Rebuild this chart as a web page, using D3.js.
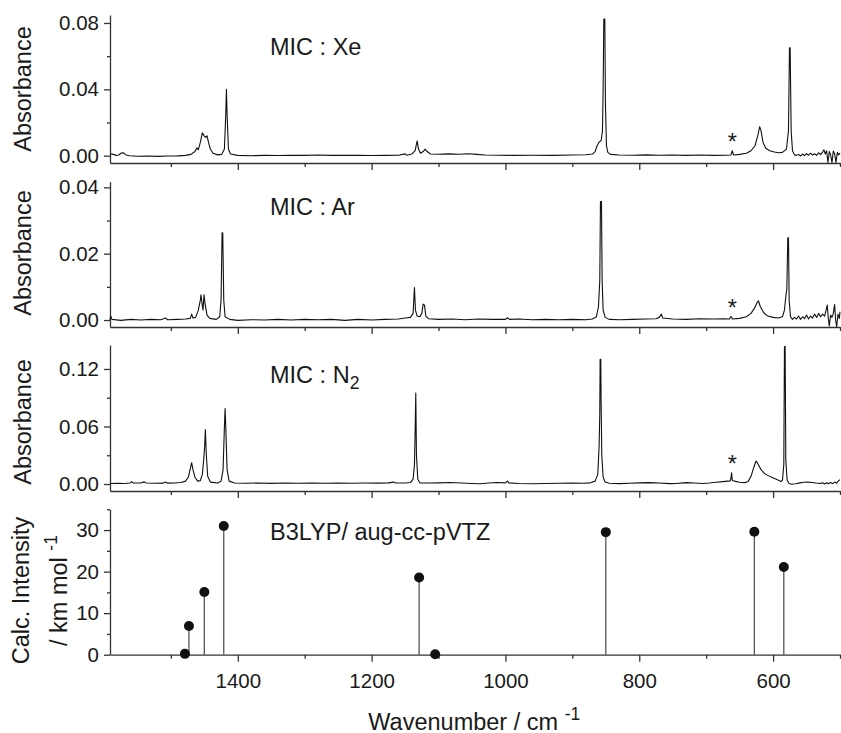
<!DOCTYPE html>
<html>
<head>
<meta charset="utf-8">
<script src="https://cdn.jsdelivr.net/npm/d3@7"></script>
<style>
  body { margin: 0; background: #fff; }
  svg text { font-family: "Liberation Sans", Arial, sans-serif; fill: #1a1a1a; }
  .axis path, .axis line { stroke: #333; stroke-width: 1.3; }
  .axis text { font-size: 20.5px; fill: #1a1a1a; }
</style>
</head>
<body>
<svg id="chart" width="841" height="733"></svg>
<script>
const svg = d3.select("#chart");

// wavenumber ticks
const xMajorTicks = [1400, 1200, 1000, 800, 600];
const xMinorTicks = [1500, 1300, 1100, 900, 700, 500];

// MIC : Xe  [wavenumber, absorbance]
const xeSpectrum = [
  [1591, 0.0012], [1586, 0.0008], [1582, 0.0002], [1578, 0.0004], [1574, 0.0016], [1571, 0.0018],
  [1568, 0.0006], [1562, 0.0000], [1550, -0.0003], [1535, -0.0002], [1520, -0.0004], [1505, -0.0002],
  [1490, -0.0001], [1478, 0.0002], [1470, 0.0008], [1464, 0.0025], [1461, 0.0048], [1459, 0.0035],
  [1456, 0.0080], [1453, 0.0138], [1450, 0.0118], [1448, 0.0110], [1446, 0.0120], [1444, 0.0085],
  [1441, 0.0040], [1437, 0.0015], [1430, 0.0005], [1424, 0.0008], [1420, 0.0040], [1418, 0.0250],
  [1417, 0.0400], [1416, 0.0250], [1414, 0.0040], [1411, 0.0010], [1400, 0.0002], [1380, 0.0000],
  [1360, 0.0002], [1340, 0.0001], [1320, 0.0003], [1300, 0.0002], [1280, 0.0004], [1260, 0.0002],
  [1240, 0.0003], [1220, 0.0002], [1200, 0.0001], [1180, 0.0002], [1160, 0.0003], [1150, 0.0011],
  [1147, 0.0003], [1140, 0.0010], [1135, 0.0030], [1132, 0.0089], [1130, 0.0040], [1127, 0.0015],
  [1123, 0.0025], [1120, 0.0039], [1117, 0.0025], [1112, 0.0010], [1100, 0.0009], [1085, 0.0011],
  [1070, 0.0009], [1055, 0.0012], [1043, 0.0008], [1030, 0.0004], [1010, 0.0003], [990, 0.0002],
  [960, 0.0003], [930, 0.0002], [900, 0.0004], [880, 0.0006], [870, 0.0010], [866, 0.0025],
  [863, 0.0060], [860, 0.0083], [857, 0.0090], [855, 0.0150], [854, 0.0400], [853, 0.0823],
  [851.5, 0.0823], [850.5, 0.0300], [849, 0.0060], [847, 0.0020], [843, 0.0008], [830, 0.0004],
  [810, 0.0003], [790, 0.0005], [770, 0.0003], [750, 0.0004], [730, 0.0002], [710, 0.0004],
  [690, 0.0002], [670, 0.0003], [663, 0.0004], [661, 0.0030], [659, 0.0004], [650, 0.0008],
  [640, 0.0015], [633, 0.0030], [627, 0.0060], [623, 0.0120], [620, 0.0175], [618, 0.0150],
  [615, 0.0080], [611, 0.0045], [605, 0.0030], [598, 0.0022], [592, 0.0018], [586, 0.0020],
  [580, 0.0040], [577, 0.0150], [575.5, 0.0650], [574.5, 0.0650], [573, 0.0150], [571, 0.0030],
  [568, 0.0005], [565, 0.0002], [562, 0.0008], [559, -0.0002], [556, 0.0010], [553, 0.0000],
  [550, 0.0012], [547, 0.0003], [544, 0.0015], [541, 0.0004], [538, 0.0012], [535, 0.0002],
  [532, 0.0018], [529, 0.0006], [526, 0.0022], [524, 0.0035], [522, 0.0010], [520, 0.0030],
  [518, -0.0040], [516, 0.0025], [514, 0.0005], [512, -0.0040], [510, 0.0028], [508, 0.0010],
  [506, -0.0040], [504, 0.0020], [502, 0.0005], [500, 0.0015]
];

// MIC : Ar
const arSpectrum = [
  [1591, 0.0000], [1590, 0.0012], [1588, 0.0002], [1575, -0.0001], [1560, 0.0002], [1545, 0.0000],
  [1530, 0.0002], [1515, 0.0001], [1508, 0.0006], [1505, 0.0001], [1490, 0.0002], [1478, 0.0003],
  [1471, 0.0005], [1469, 0.0018], [1467, 0.0006], [1463, 0.0008], [1459, 0.0030], [1456, 0.0060],
  [1455, 0.0076], [1453.5, 0.0050], [1452, 0.0030], [1450.5, 0.0076], [1449, 0.0050], [1446, 0.0015],
  [1442, 0.0005], [1432, 0.0002], [1427, 0.0010], [1425, 0.0060], [1423.5, 0.0263], [1422.5, 0.0263],
  [1421, 0.0060], [1419, 0.0010], [1412, 0.0002], [1400, -0.0001], [1380, 0.0001], [1360, 0.0000],
  [1340, 0.0002], [1320, 0.0000], [1300, 0.0002], [1280, 0.0001], [1260, 0.0002], [1240, -0.0001],
  [1220, 0.0002], [1200, 0.0000], [1180, 0.0002], [1160, 0.0003], [1150, 0.0006], [1142, 0.0008],
  [1138, 0.0020], [1136, 0.0098], [1134.5, 0.0030], [1132, 0.0012], [1128, 0.0010], [1125, 0.0020],
  [1123, 0.0048], [1121, 0.0045], [1119, 0.0012], [1115, 0.0004], [1100, 0.0002], [1080, 0.0003],
  [1060, 0.0001], [1040, 0.0003], [1020, 0.0002], [1000, 0.0002], [997, 0.0007], [994, 0.0002],
  [980, 0.0003], [960, 0.0001], [940, 0.0002], [920, 0.0001], [900, 0.0002], [880, 0.0001],
  [870, 0.0003], [864, 0.0010], [861, 0.0040], [859, 0.0120], [858, 0.0357], [856.5, 0.0357],
  [855.5, 0.0120], [854, 0.0030], [851, 0.0008], [845, 0.0002], [830, 0.0001], [810, 0.0002],
  [790, 0.0003], [775, 0.0004], [770, 0.0008], [767, 0.0018], [765, 0.0006], [750, 0.0003],
  [730, 0.0002], [710, 0.0004], [690, 0.0003], [675, 0.0004], [665, 0.0003], [663.5, 0.0010],
  [662, 0.0010], [661, 0.0003], [650, 0.0005], [640, 0.0010], [633, 0.0020], [628, 0.0035],
  [624, 0.0052], [622, 0.0058], [619, 0.0040], [614, 0.0022], [608, 0.0012], [600, 0.0008],
  [592, 0.0006], [586, 0.0010], [583, 0.0030], [580.5, 0.0080], [579.5, 0.0090], [578, 0.0248],
  [577, 0.0248], [576, 0.0060], [574, 0.0010], [571, 0.0002], [568, 0.0008], [565, 0.0003],
  [562, 0.0012], [559, 0.0002], [556, 0.0010], [553, 0.0004], [550, 0.0015], [547, 0.0003],
  [544, 0.0012], [541, 0.0006], [538, 0.0018], [535, 0.0008], [532, 0.0020], [529, 0.0010],
  [526, 0.0018], [523, 0.0012], [519, 0.0045], [517.5, 0.0005], [516, -0.0018], [514, 0.0015],
  [512, 0.0008], [510, 0.0020], [508, 0.0047], [506.5, 0.0000], [505, -0.0020], [503, 0.0018],
  [501, 0.0005], [500, 0.0025]
];

// MIC : N2
const n2Spectrum = [
  [1591, 0.0005], [1580, 0.0007], [1570, 0.0006], [1561, 0.0010], [1559, 0.0025], [1556, 0.0010],
  [1545, 0.0010], [1540, 0.0022], [1537, 0.0010], [1525, 0.0008], [1512, 0.0009], [1508, 0.0020],
  [1505, 0.0009], [1495, 0.0010], [1485, 0.0015], [1478, 0.0030], [1474, 0.0070], [1471, 0.0160],
  [1469, 0.0222], [1467, 0.0150], [1464, 0.0070], [1460, 0.0030], [1456, 0.0035], [1453, 0.0100],
  [1451, 0.0250], [1449.5, 0.0395], [1448.5, 0.0569], [1447, 0.0300], [1445, 0.0080], [1441, 0.0020],
  [1430, 0.0010], [1425, 0.0030], [1422, 0.0150], [1420, 0.0600], [1419, 0.0787], [1418, 0.0600],
  [1416, 0.0150], [1413, 0.0030], [1405, 0.0010], [1390, 0.0008], [1370, 0.0010], [1350, 0.0007],
  [1330, 0.0010], [1310, 0.0008], [1290, 0.0011], [1270, 0.0008], [1250, 0.0010], [1230, 0.0008],
  [1210, 0.0010], [1190, 0.0009], [1175, 0.0012], [1167, 0.0020], [1164, 0.0010], [1150, 0.0010],
  [1142, 0.0015], [1138, 0.0050], [1136, 0.0200], [1135, 0.0540], [1134, 0.0950], [1133, 0.0300],
  [1131, 0.0050], [1128, 0.0012], [1115, 0.0010], [1100, 0.0012], [1083, 0.0016], [1065, 0.0010],
  [1050, 0.0006], [1038, 0.0003], [1025, 0.0010], [1013, 0.0016], [1000, 0.0012], [997, 0.0030],
  [995, 0.0012], [980, 0.0006], [960, 0.0003], [940, 0.0006], [920, 0.0008], [900, 0.0010],
  [885, 0.0008], [873, 0.0012], [866, 0.0030], [862, 0.0100], [860, 0.0400], [859, 0.0735],
  [858.5, 0.1300], [857.5, 0.1300], [857, 0.0850], [856, 0.0300], [854, 0.0070], [851, 0.0020],
  [845, 0.0008], [830, 0.0004], [815, 0.0008], [800, 0.0012], [785, 0.0014], [770, 0.0010],
  [755, 0.0004], [745, 0.0006], [730, 0.0014], [718, 0.0010], [705, 0.0006], [695, 0.0010],
  [685, 0.0018], [675, 0.0025], [668, 0.0030], [664, 0.0032], [663, 0.0060], [662, 0.0118],
  [661, 0.0040], [658, 0.0030], [650, 0.0018], [642, 0.0014], [637, 0.0030], [633, 0.0080],
  [629, 0.0170], [626, 0.0232], [625, 0.0239], [622, 0.0200], [618, 0.0150], [613, 0.0110],
  [608, 0.0090], [602, 0.0070], [597, 0.0055], [592, 0.0040], [588, 0.0025], [586, 0.0040],
  [584, 0.0200], [583, 0.1435], [582, 0.1435], [581, 0.0250], [579, 0.0040], [576, 0.0005],
  [572, -0.0002], [566, 0.0003], [560, 0.0012], [554, 0.0018], [548, 0.0020], [542, 0.0016],
  [536, 0.0010], [530, 0.0006], [526, 0.0012], [523, 0.0000], [520, 0.0014], [517, 0.0002],
  [514, 0.0016], [511, 0.0004], [508, 0.0020], [505, 0.0008], [502, 0.0035], [500, 0.0045]
];

// B3LYP/aug-cc-pVTZ calculated bands
const calcWavenumbers = [1479, 1473, 1450, 1421, 1129, 1105, 850, 628, 584];
const calcIntensities = [0.2, 6.9, 15.1, 31.0, 18.6, 0.1, 29.5, 29.6, 21.1];

// y ticks per panel
const xeTicks = [0, 0.04, 0.08], xeMinor = [0.02, 0.06];
const arTicks = [0, 0.02, 0.04], arMinor = [0.01, 0.03];
const n2Ticks = [0, 0.06, 0.12], n2Minor = [0.03, 0.09];
const calcTicks = [0, 10, 20, 30], calcMinor = [5, 15, 25, 35];

// marked band (*)
const starWavenumber = 661;
const starHeights = [0.0030, 0.0010, 0.0118];

const left = 110, right = 840;
const x = d3.scaleLinear().domain([1591, 500]).range([left, right]);

const panels = [
  { top: 15, bottom: 163, domain: [-0.0044, 0.0848], ticks: xeTicks, minor: xeMinor, fmt: d3.format(".2f"),
    data: xeSpectrum, label: "MIC : Xe", labelY: 55, yLabelY: 89, star: starHeights[0] },
  { top: 181.7, bottom: 327, domain: [-0.0021, 0.0417], ticks: arTicks, minor: arMinor, fmt: d3.format(".2f"),
    data: arSpectrum, label: "MIC : Ar", labelY: 215, yLabelY: 253, star: starHeights[1] },
  { top: 345, bottom: 491, domain: [-0.0073, 0.1450], ticks: n2Ticks, minor: n2Minor, fmt: d3.format(".2f"),
    data: n2Spectrum, label: "MIC : N", sub: "2", labelY: 382.7, yLabelY: 422, star: starHeights[2] },
  { top: 509.3, bottom: 654.7, domain: [0, 35], ticks: calcTicks, minor: calcMinor, fmt: d3.format("d"),
    label: "B3LYP/ aug-cc-pVTZ", labelY: 540 }
];

panels.forEach((p, i) => {
  const y = d3.scaleLinear().domain(p.domain).range([p.bottom, p.top]);
  const g = svg.append("g");
  const last = i === panels.length - 1;

  // y axis
  g.append("g").attr("class", "axis")
    .attr("transform", `translate(${left},0)`)
    .call(d3.axisLeft(y).tickValues(p.ticks).tickSize(6).tickSizeOuter(0).tickPadding(5).tickFormat(p.fmt));
  g.append("g").attr("class", "axis")
    .attr("transform", `translate(${left},0)`)
    .call(d3.axisLeft(y).tickValues(p.minor).tickSize(3).tickSizeOuter(0).tickFormat(""))
    .select(".domain").remove();

  // x axis
  g.append("g").attr("class", "axis")
    .attr("transform", `translate(0,${p.bottom})`)
    .call(d3.axisBottom(x).tickValues(xMajorTicks).tickSize(7).tickSizeOuter(0).tickPadding(11.4)
      .tickFormat(last ? d3.format("d") : ""));
  g.append("g").attr("class", "axis")
    .attr("transform", `translate(0,${p.bottom})`)
    .call(d3.axisBottom(x).tickValues(xMinorTicks).tickSize(4).tickSizeOuter(0).tickFormat(""))
    .select(".domain").remove();

  if (p.data) {
    const line = d3.line().x(d => x(d[0])).y(d => y(d[1]));
    g.append("path")
      .datum(p.data)
      .attr("d", line)
      .attr("fill", "none")
      .attr("stroke", "#111")
      .attr("stroke-width", 1.1)
      .attr("stroke-linejoin", "round");

    g.append("text")
      .attr("x", x(starWavenumber))
      .attr("y", y(p.star) - 1)
      .attr("text-anchor", "middle")
      .attr("font-size", "23.5px")
      .text("*");

    g.append("text")
      .attr("transform", `translate(31,${p.yLabelY}) rotate(-90)`)
      .attr("text-anchor", "middle")
      .attr("font-size", "23.5px")
      .text("Absorbance");
  } else {
    const calc = calcWavenumbers.map((w, k) => ({ w, v: calcIntensities[k] }));
    g.selectAll(".stem")
      .data(calc)
      .join("line")
      .attr("class", "stem")
      .attr("x1", d => x(d.w)).attr("x2", d => x(d.w))
      .attr("y1", y(0)).attr("y2", d => y(d.v))
      .attr("stroke", "#555")
      .attr("stroke-width", 1.3);
    g.selectAll(".dot")
      .data(calc)
      .join("circle")
      .attr("class", "dot")
      .attr("cx", d => x(d.w))
      .attr("cy", d => y(d.v))
      .attr("r", 5)
      .attr("fill", "#111");

    g.append("text")
      .attr("transform", `translate(29,590.5) rotate(-90)`)
      .attr("text-anchor", "middle")
      .attr("font-size", "23.5px")
      .text("Calc. Intensity");
    const t2 = g.append("text")
      .attr("transform", `translate(66.5,590.5) rotate(-90)`)
      .attr("text-anchor", "middle")
      .attr("font-size", "23.5px");
    t2.append("tspan").text("/ km mol ");
    t2.append("tspan").attr("dy", -10).attr("font-size", "17.5px").text("-1");
  }

  const lbl = g.append("text")
    .attr("x", 270)
    .attr("y", p.labelY)
    .attr("font-size", "23.5px")
    .text(p.label);
  if (p.sub) lbl.append("tspan").attr("dy", 6).attr("font-size", "17.5px").text(p.sub);
});

const xl = svg.append("text")
  .attr("x", 368.3)
  .attr("y", 729.5)
  .attr("font-size", "23.5px");
xl.append("tspan").text("Wavenumber / cm ");
xl.append("tspan").attr("dy", -10).attr("font-size", "17.5px").text("-1");
</script>
</body>
</html>
